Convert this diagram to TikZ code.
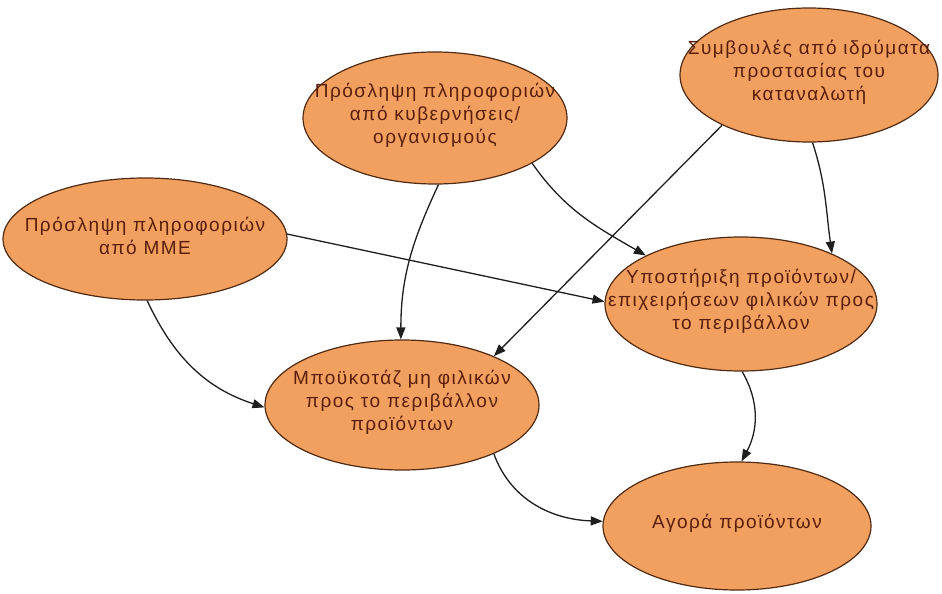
\documentclass[tikz,border=0pt]{standalone}
\usepackage{fontspec}
\setmainfont{Liberation Sans}
\newfontfamily\gk[LetterSpace=8]{Liberation Sans}
\usetikzlibrary{shapes.geometric,arrows.meta}
\definecolor{bubblefill}{RGB}{242,160,96}
\definecolor{edgebrown}{RGB}{80,42,18}
\definecolor{textbrown}{RGB}{90,30,10}
\definecolor{linkgray}{RGB}{30,30,30}
\tikzset{
  bubble/.style={ellipse, draw=edgebrown, fill=bubblefill, line width=1.2pt, inner sep=0pt},
  caption/.style={text=textbrown, align=center, inner sep=0pt, yshift=3pt,
                  font=\gk\fontsize{19}{23}\selectfont},
  link/.style={draw=linkgray, line width=1.3pt, -{Triangle[length=12pt,width=9pt]}}
}
\begin{document}
\begin{tikzpicture}[x=1pt,y=-1pt]
\useasboundingbox (0,0) rectangle (942,594);

% ellipses
\node[bubble, minimum width=284pt, minimum height=122pt] (mme)  at (145,239) {};
\node[bubble, minimum width=264pt, minimum height=132pt] (gov)  at (435,118) {};
\node[bubble, minimum width=258pt, minimum height=134pt] (cons) at (809,75)  {};
\node[bubble, minimum width=272pt, minimum height=134pt] (supp) at (741,304) {};
\node[bubble, minimum width=274pt, minimum height=130pt] (boyc) at (402,405) {};
\node[bubble, minimum width=268pt, minimum height=128pt] (buy)  at (737,526) {};

% labels
\node[caption] (mmetxt)  at (mme)  {Πρόσληψη πληροφοριών\\από ΜΜΕ};
\node[caption] (govtxt)  at (gov)  {Πρόσληψη πληροφοριών\\από κυβερνήσεις/\\οργανισμούς};
\node[caption] (constxt) at (cons) {Συμβουλές από ιδρύματα\\προστασίας του\\καταναλωτή};
\node[caption] (supptxt) at (supp) {Υποστήριξη προϊόντων/\\επιχειρήσεων φιλικών προς\\το περιβάλλον};
\node[caption] (boyctxt) at (boyc) {Μποϋκοτάζ μη φιλικών\\προς το περιβάλλον\\προϊόντων};
\node[caption] (buytxt)  at (buy)  {Αγορά προϊόντων};

% connectors
\draw[link] (mme.-88) to[out=-65, in=162] (boyc.181);
\draw[link] (mme.2) -- (supp.179);
\draw[link] (gov.-87) to[out=-115, in=90] (boyc.91);
\draw[link] (gov.-25) to[out=-55, in=150] (supp.153);
\draw[link] (cons.-150) -- (boyc.28);
\draw[link] (cons.-87) to[out=-72, in=98] (supp.29);
\draw[link] (supp.-89) to[out=-60, in=62] (buy.86);
\draw[link] (boyc.-28) to[out=-70, in=178] (buy.178);
\end{tikzpicture}
\end{document}
